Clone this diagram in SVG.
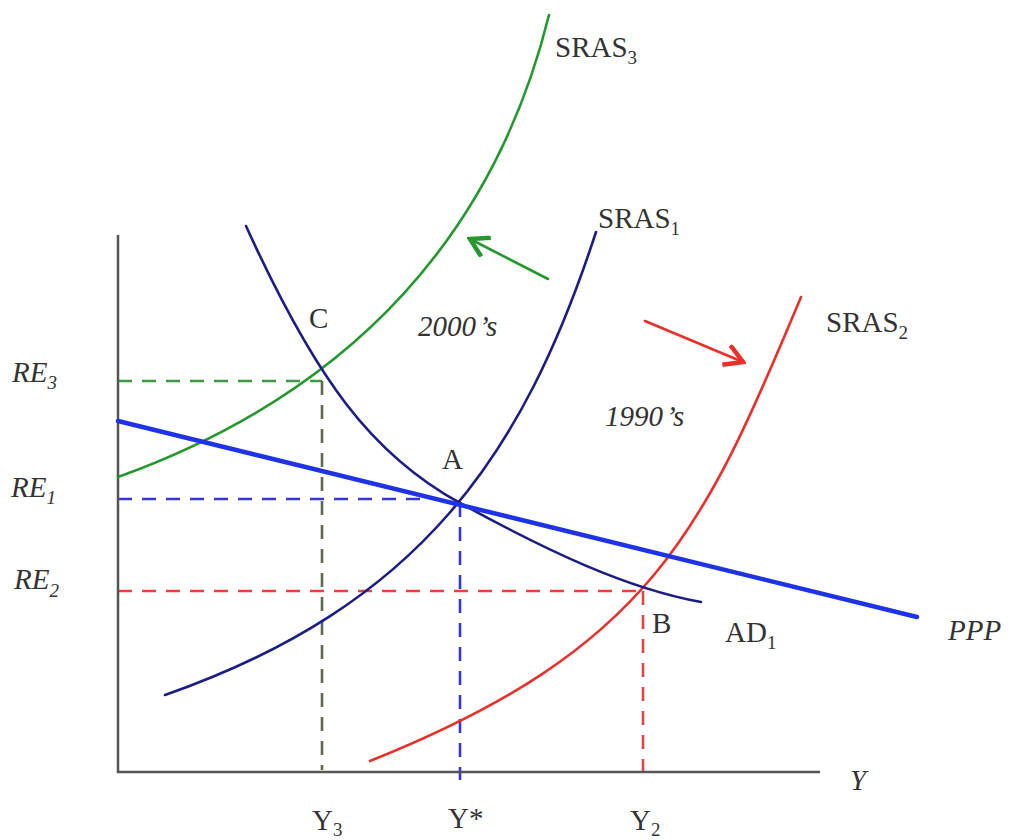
<svg xmlns="http://www.w3.org/2000/svg" width="1012" height="840" viewBox="0 0 1012 840">
<style>
.t{font-family:"Liberation Serif","DejaVu Serif",serif;fill:#333;font-size:29px}
.i{font-style:italic}
.s{font-size:19px}
.c{fill:none;stroke-width:2.6;stroke-linecap:round}
.navy{stroke:#1c1c85}
.grn{stroke:#24982f}
.red{stroke:#e8302a}
.ppp{fill:none;stroke:#1f33e6;stroke-width:4.5;stroke-linecap:round}
.d{fill:none;stroke-width:2.6;stroke-dasharray:14 10}
.ax{fill:none;stroke:#555;stroke-width:2.5}
</style>
<defs>
<marker id="hg" markerUnits="userSpaceOnUse" markerWidth="24" markerHeight="24" refX="14" refY="8" orient="auto" viewBox="0 0 16 16">
<path d="M2,1 L14,8 L2,15" fill="none" stroke="#24982f" stroke-width="3"/>
</marker>
<marker id="hr" markerUnits="userSpaceOnUse" markerWidth="24" markerHeight="24" refX="14" refY="8" orient="auto" viewBox="0 0 16 16">
<path d="M2,1 L14,8 L2,15" fill="none" stroke="#e8302a" stroke-width="3"/>
</marker>
</defs>
<rect width="1012" height="840" fill="#fff"/>

<g id="guides">
<path class="d" stroke="#3f9a45" d="M118,381 H322"/>
<path class="d" stroke="#5d6a4e" d="M322,381 V770"/>
<path class="d" stroke="#3535d8" d="M118,499 H430"/>
<path class="d" stroke="#3535d8" d="M460,503 V780"/>
<path class="d" stroke="#e04545" d="M118,591 H644"/>
<path class="d" stroke="#e04545" d="M643,591 V780"/>
</g>

<g id="axes">
<path class="ax" d="M118,235 V772 H820"/>
</g>

<g id="connectors">
<path id="SRAS3-curve" class="c grn" d="M118,477 C358,390.6 496.2,228.4 549,15"/>
<path id="SRAS1-curve" class="c navy" d="M165,695 C420,605.75 523.15,455.25 596,232"/>
<path id="SRAS2-curve" class="c red" d="M370,761 C650,649 702.8,532.4 801,297"/>
<path id="AD1-curve" class="c navy" d="M246,226 C316.4,380.7 372.4,454.8 460,503 C547.6,551.2 627.2,588.7 701,602"/>
<path id="PPP-line" class="ppp" d="M118,421 L917,617"/>
<path id="arrow-2000s" class="c grn" d="M548,279 L470,239" marker-end="url(#hg)"/>
<path id="arrow-1990s" class="c red" d="M645,321 L743,362" marker-end="url(#hr)"/>
</g>

<g id="SRAS3"><text class="t" x="555" y="57">SRAS<tspan class="s" dy="7">3</tspan></text></g>
<g id="SRAS1"><text class="t" x="598" y="228">SRAS<tspan class="s" dy="7">1</tspan></text></g>
<g id="SRAS2"><text class="t" x="826" y="332">SRAS<tspan class="s" dy="7">2</tspan></text></g>
<g id="AD1"><text class="t" x="725" y="642">AD<tspan class="s" dy="7">1</tspan></text></g>
<g id="PPP"><text class="t i" x="948" y="640">PPP</text></g>
<g id="pointC"><text class="t" x="309" y="328">C</text></g>
<g id="pointA"><text class="t" x="442" y="469">A</text></g>
<g id="pointB"><text class="t" x="652" y="633">B</text></g>
<g id="label-2000s"><text class="t i" x="418" y="336">2000<tspan dx="3">’</tspan><tspan dx="1">s</tspan></text></g>
<g id="label-1990s"><text class="t i" x="605" y="426">1990<tspan dx="3">’</tspan><tspan dx="1">s</tspan></text></g>
<g id="RE3"><text class="t i" x="12" y="382">RE<tspan class="s" dy="7">3</tspan></text></g>
<g id="RE1"><text class="t i" x="11" y="497">RE<tspan class="s" dy="7">1</tspan></text></g>
<g id="RE2"><text class="t i" x="14" y="589">RE<tspan class="s" dy="8">2</tspan></text></g>
<g id="Y3"><text class="t" x="312" y="830">Y<tspan class="s" dy="6">3</tspan></text></g>
<g id="Ystar"><text class="t" x="448" y="828">Y*</text></g>
<g id="Y2"><text class="t" x="630" y="830">Y<tspan class="s" dy="6">2</tspan></text></g>
<g id="Yaxis"><text class="t i" x="850" y="790">Y</text></g>
</svg>
